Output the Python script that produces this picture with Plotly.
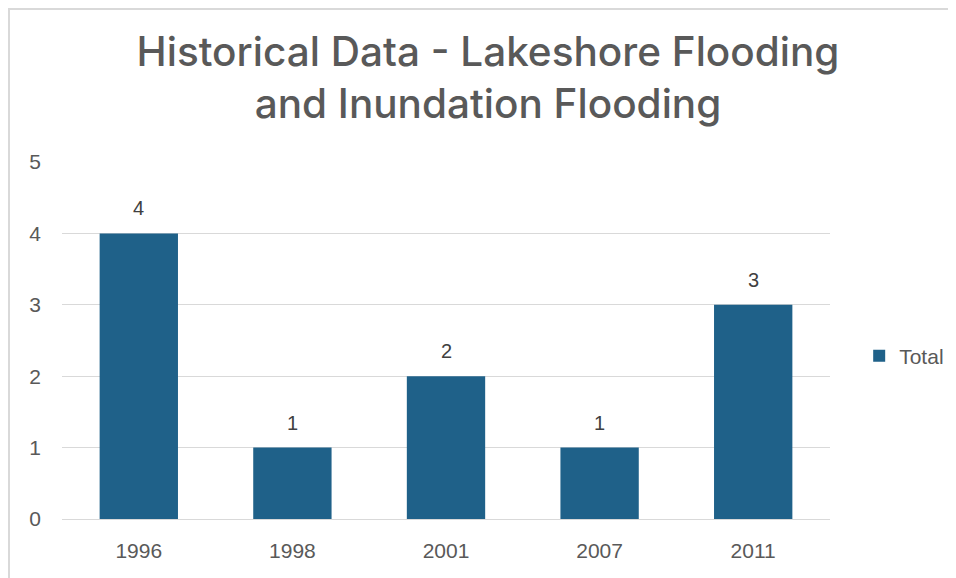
import plotly.graph_objects as go

years = ["1996", "1998", "2001", "2007", "2011"]
totals = [4, 1, 2, 1, 3]
series_name = "Total"
title_text = "Historical Data - Lakeshore Flooding<br>and Inundation Flooding"

fig = go.Figure()
fig.add_trace(go.Bar(
    x=years, y=totals, name=series_name,
    marker=dict(color="#1F6189", line=dict(width=0)),
    width=0.51,
))

# category axis: annotation x given as category index
for i, v in enumerate(totals):
    fig.add_annotation(x=i, y=v, text=str(v), showarrow=False,
                       xref="x", yref="y",
                       yanchor="bottom", yshift=12,
                       font=dict(family="Liberation Sans, Arial", size=20, color="#404040"))

fig.update_layout(
    width=956, height=578,
    paper_bgcolor="white", plot_bgcolor="white",
    margin=dict(l=54, r=134, t=154, b=67),
    title=dict(text=title_text, x=480/956, xanchor="center", xref="container",
               y=1 - 57.5/578, yanchor="middle", yref="container",
               font=dict(family="Inter, Lato, sans-serif", size=40.5, color="#595959", weight=500)),
    showlegend=True,
    legend=dict(x=1.038, y=0.4566, xanchor="left", yanchor="middle",
                font=dict(family="Liberation Sans, Arial", size=21, color="#595959"),
                itemwidth=30, bgcolor="rgba(0,0,0,0)"),
    shapes=[dict(type="rect", xref="paper", yref="paper",
                 x0=-53/768, x1=1.3, y0=-0.3, y1=1 + 153/357,
                 line=dict(color="#d9d9d9", width=2), layer="below")],
)
fig.update_xaxes(type="category", categoryorder="array", categoryarray=years,
                 range=[-0.5, len(years) - 0.5],
                 showgrid=False, showline=True, linecolor="#d9d9d9", linewidth=1,
                 ticks="", ticklabelstandoff=13,
                 tickfont=dict(family="Liberation Sans, Arial", size=21, color="#595959"))
fig.update_yaxes(range=[0, 5], dtick=1, showgrid=True, gridcolor="#d9d9d9", gridwidth=1,
                 zeroline=False, showline=False, ticks="", ticklabelstandoff=20,
                 tickfont=dict(family="Liberation Sans, Arial", size=21, color="#595959"))

fig.write_html("out.html")
